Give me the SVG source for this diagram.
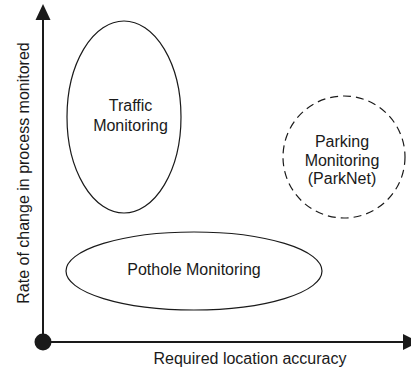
<svg xmlns="http://www.w3.org/2000/svg" width="411" height="367" viewBox="0 0 411 367">
<style>
.t{font-family:"Liberation Sans",Arial,sans-serif;font-size:16px;fill:#1a1a1a;text-anchor:middle}
.n{fill:none;stroke:#1a1a1a;stroke-width:1.2}
.ax{stroke:#1a1a1a;stroke-width:2;fill:none}
</style>
<rect width="411" height="367" fill="#fff"/>
<g id="axes">
<line class="ax" x1="43" y1="342" x2="43" y2="18"/>
<polygon points="43,4 35.5,20 50.5,20" fill="#1a1a1a"/>
<line class="ax" x1="43" y1="342" x2="405" y2="342"/>
<polygon points="419,342 403,334 403,350" fill="#1a1a1a"/>
<circle cx="43" cy="342" r="8.5" fill="#1a1a1a"/>
<text class="t" x="250" y="363.5">Required location accuracy</text>
<text class="t" transform="translate(29,173) rotate(-90)">Rate of change in process monitored</text>
</g>
<g id="traffic">
<ellipse class="n" cx="124" cy="117" rx="57" ry="96"/>
<text class="t" x="130.5" y="111">Traffic</text>
<text class="t" x="130.5" y="131">Monitoring</text>
</g>
<g id="pothole">
<ellipse class="n" cx="194" cy="271" rx="128" ry="39"/>
<text class="t" x="194" y="275">Pothole Monitoring</text>
</g>
<g id="parking">
<circle class="n" cx="344" cy="157" r="61" stroke-dasharray="8,5"/>
<text class="t" x="342" y="147">Parking</text>
<text class="t" x="342" y="166">Monitoring</text>
<text class="t" x="342" y="184">(ParkNet)</text>
</g>
</svg>
